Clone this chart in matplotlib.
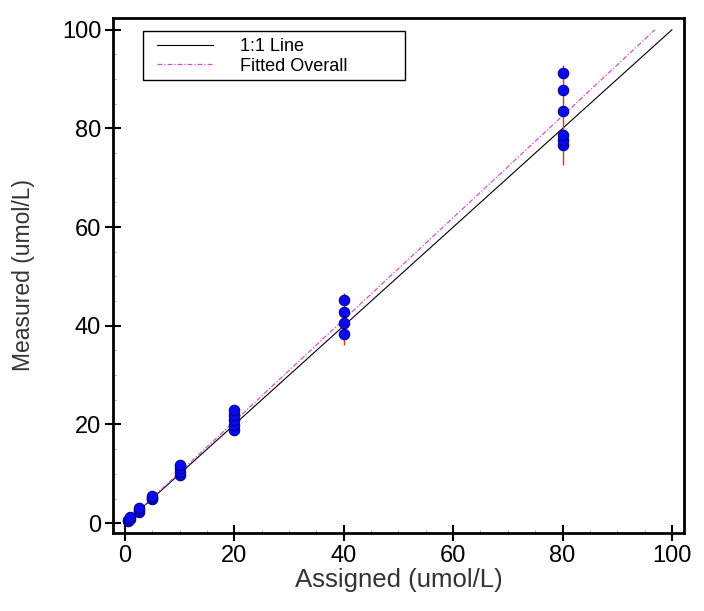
"""
measured vs assigned concentrations with 1:1 line and fitted line
"""

import matplotlib.pyplot as plt
from matplotlib.ticker import MultipleLocator
from matplotlib.patches import Rectangle
import numpy as np

plt.rcParams['font.family'] = ['Liberation Sans', 'DejaVu Sans']

# ------------------------------- data -------------------------------------
assigned = [0.5, 0.5, 1, 1, 2.5, 2.5, 2.5, 5, 5, 5, 10, 10, 10, 10,
            20, 20, 20, 20, 20, 40, 40, 40, 40, 80, 80, 80, 80, 80, 80]
measured = [0.4, 0.7, 0.9, 1.3, 2.3, 2.7, 3.0, 4.8, 5.2, 5.6, 9.8, 10.3, 11.2, 11.8,
            18.9, 19.8, 20.9, 22.0, 22.9, 38.3, 40.6, 42.8, 45.2,
            76.7, 77.7, 78.7, 83.6, 87.8, 91.3]

# range bars per level
levels = [0.5, 1, 2.5, 5, 10, 20, 40, 80]
bar_lo = [0.2, 0.6, 2.0, 4.3, 9.2, 18.0, 36.1, 72.6]
bar_hi = [0.9, 1.6, 3.3, 6.1, 12.4, 24.0, 46.6, 92.9]

# 1:1 and fitted lines
line_x = [0, 100]
fit_slope = 1.032
fit_x = [0, 96.9]

# ------------------------------- plot -------------------------------------
fig = plt.figure(figsize=(7.04, 6.11), dpi=100)
ax = fig.add_axes([0.1605, 0.1276, 0.811, 0.843])

ax.plot(line_x, line_x, color='black', lw=0.8, label='1:1 Line', zorder=2)
ax.plot(fit_x, np.array(fit_x)*fit_slope, color='#d450d4', lw=0.9,
        linestyle=(0, (4, 1.5, 1, 1.5)), label='Fitted Overall', zorder=2)

ax.vlines(levels, bar_lo, bar_hi, color='#e03020', lw=1.0, zorder=3)
ax.plot(assigned, measured, 'o', ms=7.5, mfc='#0a0af0', mec='#000090',
        mew=0.8, zorder=4)

ax.set_xlim(-2.2, 102.2)
ax.set_ylim(-2.0, 102.4)
ax.xaxis.set_major_locator(MultipleLocator(20))
ax.yaxis.set_major_locator(MultipleLocator(20))
ax.xaxis.set_minor_locator(MultipleLocator(5))
ax.yaxis.set_minor_locator(MultipleLocator(5))
ax.tick_params(which='major', direction='inout', length=11, width=1.5,
               labelsize=17, pad=3)
ax.tick_params(which='minor', direction='in', length=2, width=0.6,
               color='#999999')
for s in ax.spines.values():
    s.set_linewidth(2)

ax.set_xlabel('Assigned (umol/L)', fontsize=18.5, color='#333333', labelpad=1)
ax.set_ylabel('Measured (umol/L)', fontsize=16.5, color='#333333', labelpad=19)

# legend box drawn separately so the entries sit where they should
ax.add_patch(Rectangle((0.0525, 0.8796), 0.459, 0.0954, transform=ax.transAxes,
                       facecolor='white', edgecolor='black', lw=1.0, zorder=5))
leg = ax.legend(loc='upper left', bbox_to_anchor=(0.077, 0.961),
                fontsize=13, handlelength=3.1, handletextpad=1.5,
                frameon=False, borderaxespad=0, borderpad=0, labelspacing=0.15)
leg.set_zorder(6)

fig.savefig('out.png', dpi=100)
